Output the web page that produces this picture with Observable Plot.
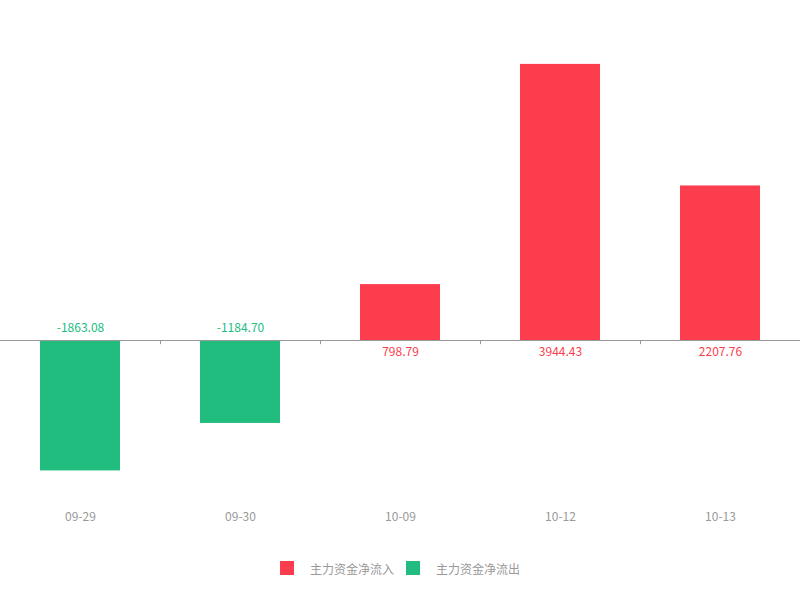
<!DOCTYPE html>
<html>
<head>
<meta charset="utf-8">
<script src="https://cdn.jsdelivr.net/npm/d3@7"></script>
<script src="https://cdn.jsdelivr.net/npm/@observablehq/plot@0.6"></script>
<style>
  html, body { margin: 0; padding: 0; background: #fff; }
  body { width: 800px; height: 600px; overflow: hidden; font-family: "Noto Sans CJK SC", "Noto Sans", sans-serif; }
  #legend { display: flex; justify-content: center; align-items: center; height: 46px; font-size: 12px; color: #999; }
  .item { display: flex; align-items: center; }
  .sw { width: 14px; height: 14px; margin-right: 16px; }
  .item + .item { margin-left: 12px; }
</style>
</head>
<body>
<div id="chart"></div>
<div id="legend"></div>
<script>
const dates = ["09-29", "09-30", "10-09", "10-12", "10-13"];
const values = [-1863.08, -1184.70, 798.79, 3944.43, 2207.76];
const seriesNames = ["主力资金净流入", "主力资金净流出"];
const seriesColors = ["#fc3d4d", "#20bd7f"];

const data = dates.map((d, i) => ({date: d, value: values[i], label: values[i].toFixed(2)}));
const colorOf = v => v >= 0 ? seriesColors[0] : seriesColors[1];

const chart = Plot.plot({
  width: 800,
  height: 545,
  marginLeft: 0,
  marginRight: 0,
  marginTop: 60,
  marginBottom: 65,
  style: {fontFamily: '"Noto Sans CJK SC", "Noto Sans", sans-serif', fontSize: "12px", background: "#fff"},
  x: {domain: dates, paddingInner: 0.5, paddingOuter: 0.25, label: null},
  y: {domain: [-2000, 4000], axis: null},
  marks: [
    Plot.barY(data, {x: "date", y: "value", fill: d => colorOf(d.value)}),
    Plot.ruleY([0], {stroke: "#999", strokeWidth: 1}),
    Plot.ruleX(dates, {x: d => d, dx: 80, y1: 0, y2: -60, stroke: "#999", strokeWidth: 1}),
    Plot.text(data, {x: "date", y: 0, text: "label", dy: d => 0, fill: d => colorOf(d.value),
      filter: d => d.value < 0, dy: -12, fontSize: 12}),
    Plot.text(data, {x: "date", y: 0, text: "label", fill: d => colorOf(d.value),
      filter: d => d.value >= 0, dy: 12, fontSize: 12}),
    Plot.axisX({tickSize: 0, tickPadding: 32, fill: "#999", fontSize: 12, label: null})
  ]
});
document.getElementById("chart").appendChild(chart);

const legend = document.getElementById("legend");
seriesNames.forEach((name, i) => {
  const item = document.createElement("div");
  item.className = "item";
  const sw = document.createElement("div");
  sw.className = "sw";
  sw.style.background = seriesColors[i];
  const t = document.createElement("span");
  t.textContent = name;
  item.appendChild(sw);
  item.appendChild(t);
  legend.appendChild(item);
});
</script>
</body>
</html>
